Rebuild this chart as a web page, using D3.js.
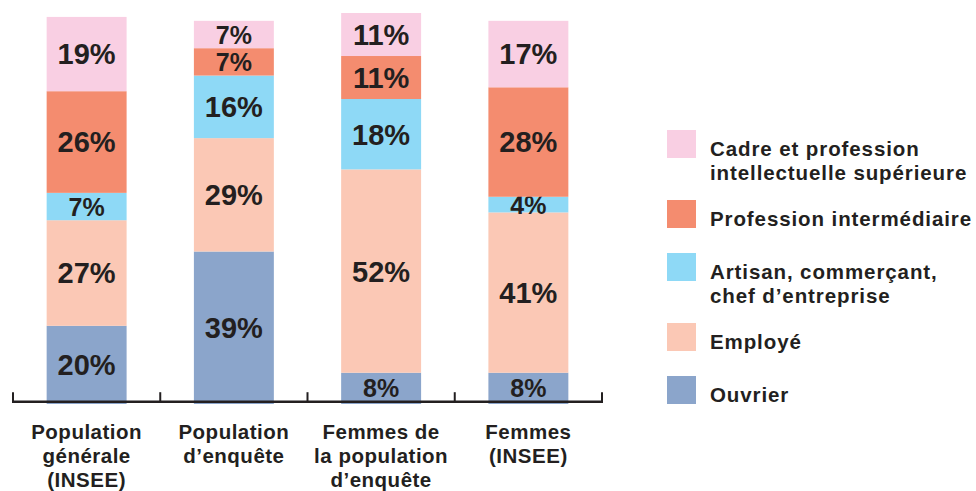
<!DOCTYPE html>
<html>
<head>
<meta charset="utf-8">
<script src="https://cdn.jsdelivr.net/npm/d3@7"></script>
<style>
  body { margin: 0; background: #fff; }
  svg { display: block; font-family: "Liberation Sans", Arial, sans-serif; font-weight: bold; }
</style>
</head>
<body>
<div id="chart"></div>
<script>
// categories (x axis), one array of lines per bar
const categoryLines = [
    ["Population", "générale", "(INSEE)"],
    ["Population", "d\u2019enquête"],
    ["Femmes de", "la population", "d\u2019enquête"],
    ["Femmes", "(INSEE)"]
];

// series, bottom of the stack first
const seriesKeys = ["ouvrier", "employe", "artisan", "intermediaire", "cadre"];
const ouvrier = [20, 39, 8, 8];
const employe = [27, 29, 52, 41];
const artisan = [7, 16, 18, 4];
const intermediaire = [26, 7, 11, 28];
const cadre = [19, 7, 11, 17];

// legend, top to bottom
const legendKeys = ["cadre", "intermediaire", "artisan", "employe", "ouvrier"];
const legendLines = [
    ["Cadre et profession", "intellectuelle supérieure"],
    ["Profession intermédiaire"],
    ["Artisan, commerçant,", "chef d\u2019entreprise"],
    ["Employé"],
    ["Ouvrier"]
];

const colors = {
    cadre: "#f9cfe3",
    intermediaire: "#f48c6f",
    artisan: "#8ed9f6",
    employe: "#fbc8b5",
    ouvrier: "#8ba5cb"
};
const ink = "#231f20";

// build rows for d3.stack
const seriesValues = { ouvrier, employe, artisan, intermediaire, cadre };
const rows = categoryLines.map((c, i) => {
    const r = { idx: i };
    seriesKeys.forEach(k => r[k] = seriesValues[k][i]);
    return r;
});
const stacked = d3.stack().keys(seriesKeys)(rows);

const width = 976, height = 491;
const svg = d3.select("#chart").append("svg")
    .attr("width", width)
    .attr("height", height);

// x: band scale between the outer ticks
const xScale = d3.scaleBand()
    .domain(rows.map(d => d.idx))
    .range([13, 602])
    .paddingInner(0.457)
    .paddingOuter(0.2285);

// y: percent
const yScale = d3.scaleLinear()
    .domain([0, 100])
    .range([404, 13]);

// bars
const layers = svg.selectAll("g.layer")
    .data(stacked)
    .join("g")
    .attr("class", "layer")
    .attr("fill", d => colors[d.key]);

layers.selectAll("rect")
    .data(d => d)
    .join("rect")
    .attr("x", d => xScale(d.data.idx))
    .attr("y", d => yScale(d[1]))
    .attr("width", xScale.bandwidth())
    .attr("height", d => yScale(d[0]) - yScale(d[1]));

// value labels
layers.selectAll("text")
    .data(d => d)
    .join("text")
    .attr("x", d => xScale(d.data.idx) + xScale.bandwidth() / 2)
    .attr("y", d => (yScale(d[0]) + yScale(d[1])) / 2)
    .attr("dy", "0.36em")
    .attr("text-anchor", "middle")
    .attr("fill", ink)
    .style("font-size", d => (d[1] - d[0]) < 10 ? "25px" : "29px")
    .text(d => (d[1] - d[0]) + "%");

// axis: line with upward ticks at band boundaries
const axisY = 401.7;
const tickXs = d3.range(categoryLines.length + 1).map(i =>
    i === 0 ? xScale.range()[0] : xScale(i - 1) + xScale.bandwidth() + xScale.step() * xScale.paddingInner() / 2);
tickXs[tickXs.length - 1] = xScale.range()[1];

svg.append("line")
    .attr("x1", xScale.range()[0] - 1)
    .attr("x2", xScale.range()[1] + 1)
    .attr("y1", axisY)
    .attr("y2", axisY)
    .attr("stroke", ink)
    .attr("stroke-width", 2.6);

svg.selectAll("line.tick")
    .data(tickXs)
    .join("line")
    .attr("class", "tick")
    .attr("x1", d => d)
    .attr("x2", d => d)
    .attr("y1", axisY)
    .attr("y2", axisY - 9.5)
    .attr("stroke", ink)
    .attr("stroke-width", 2);

// category labels
const catText = svg.selectAll("text.cat")
    .data(categoryLines)
    .join("text")
    .attr("class", "cat")
    .attr("text-anchor", "middle")
    .attr("fill", ink)
    .style("font-size", "20.5px")
    .style("letter-spacing", "0.5px");

catText.selectAll("tspan")
    .data((d, i) => d.map(line => ({ line, i })))
    .join("tspan")
    .attr("x", d => xScale(d.i) + xScale.bandwidth() / 2)
    .attr("y", (d, j) => 439 + j * 24)
    .text(d => d.line);

// legend
let boxTop = 130;
legendKeys.forEach((k, i) => {
    const g = svg.append("g");
    g.append("rect")
        .attr("x", 667)
        .attr("y", boxTop)
        .attr("width", 29)
        .attr("height", 28)
        .attr("fill", colors[k]);
    const t = g.append("text")
        .attr("fill", ink)
        .style("font-size", "20.5px")
        .style("letter-spacing", "0.9px");
    legendLines[i].forEach((line, j) => {
        t.append("tspan")
            .attr("x", 710)
            .attr("y", boxTop + 26 + j * 23.5)
            .text(line);
    });
    boxTop += 53 + 17 * (legendLines[i].length - 1);
});
</script>
</body>
</html>
